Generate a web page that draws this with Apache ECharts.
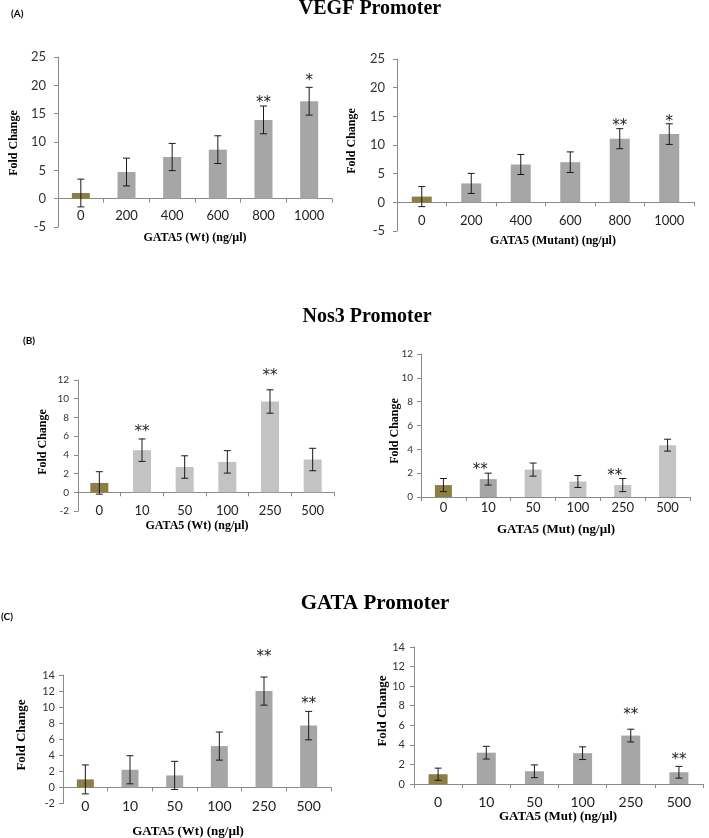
<!DOCTYPE html>
<html>
<head>
<meta charset="utf-8">
<script src="https://cdn.jsdelivr.net/npm/echarts@6/dist/echarts.min.js"></script>
<style>html,body{margin:0;padding:0;background:#fff;}#c{width:709px;height:838px;}</style>
</head>
<body>
<div id="c"></div>
<script>
// ---------- data ----------
const catsVEGF = ['0', '200', '400', '600', '800', '1000'];
const catsDose = ['0', '10', '50', '100', '250', '500'];

const vegfWtVals = [1.0, 4.7, 7.35, 8.65, 13.9, 17.2];
const vegfWtErr  = [2.45, 2.45, 2.4, 2.45, 2.45, 2.45];
const vegfWtStars = ['', '', '', '', '**', '*'];
const vegfWtStarY = [0, 0, 0, 0, 17.4, 21.3];

const vegfMutVals = [1.0, 3.3, 6.6, 7.0, 11.1, 11.9];
const vegfMutErr  = [1.75, 1.75, 1.75, 1.8, 1.75, 1.8];
const vegfMutStars = ['', '', '', '', '**', '*'];
const vegfMutStarY = [0, 0, 0, 0, 13.75, 14.6];

const nosWtVals = [1.0, 4.5, 2.7, 3.25, 9.7, 3.5];
const nosWtErr  = [1.2, 1.2, 1.2, 1.2, 1.25, 1.2];
const nosWtStars = ['', '**', '', '', '**', ''];
const nosWtStarY = [0, 6.73, 0, 0, 12.7, 0];

const nosMutVals = [1.0, 1.5, 2.3, 1.3, 1.0, 4.35];
const nosMutErr  = [0.55, 0.5, 0.55, 0.5, 0.55, 0.5];
const nosMutStars = ['', '**', '', '', '**', ''];
const nosMutStarY = [0, 2.5, 0, 0, 2.0, 0];

const gataWtVals = [1.0, 2.2, 1.5, 5.15, 12.0, 7.7];
const gataWtErr  = [1.8, 1.75, 1.75, 1.75, 1.75, 1.77];
const gataWtStars = ['', '', '', '', '**', '**'];
const gataWtStarY = [0, 0, 0, 0, 16.6, 10.7];

const gataMutVals = [1.0, 3.2, 1.3, 3.15, 4.95, 1.2];
const gataMutErr  = [0.62, 0.65, 0.65, 0.65, 0.65, 0.6];
const gataMutStars = ['', '', '', '', '**', '**'];
const gataMutStarY = [0, 0, 0, 0, 7.3, 2.74];

// ---------- styles ----------
const OLIVE = '#8c7e45';
const GRAY = '#a6a6a6';
const LIGHT = '#c3c3c3';
const AXIS = '#8a8a8a';
const SANS = 'Lato, "Liberation Sans", sans-serif';
const SERIF = '"Liberation Serif", "DejaVu Serif", serif';

const panels = [
  {cats: catsVEGF, vals: vegfWtVals, err: vegfWtErr, stars: vegfWtStars, starY: vegfWtStarY,
   grid: {left: 58, top: 57, width: 274, height: 170}, min: -5, max: 25, interval: 5,
   barWidth: 18, colors: [OLIVE, GRAY, GRAY, GRAY, GRAY, GRAY], yFont: 13, xFont: 13, yMargin: 12, xMargin: 11, starDx: 0},
  {cats: catsVEGF, vals: vegfMutVals, err: vegfMutErr, stars: vegfMutStars, starY: vegfMutStarY,
   grid: {left: 397, top: 59, width: 297, height: 172}, min: -5, max: 25, interval: 5,
   barWidth: 20, colors: [OLIVE, GRAY, GRAY, GRAY, GRAY, GRAY], yFont: 13, xFont: 13, yMargin: 12, xMargin: 12, starDx: 0},
  {cats: catsDose, vals: nosWtVals, err: nosWtErr, stars: nosWtStars, starY: nosWtStarY,
   grid: {left: 78, top: 380, width: 256, height: 131}, min: -2, max: 12, interval: 2,
   barWidth: 18, colors: [OLIVE, LIGHT, LIGHT, LIGHT, LIGHT, LIGHT], yFont: 10, xFont: 13, yMargin: 9, xMargin: 12, starDx: 0},
  {cats: catsDose, vals: nosMutVals, err: nosMutErr, stars: nosMutStars, starY: nosMutStarY,
   grid: {left: 421, top: 354, width: 269, height: 143}, min: 0, max: 12, interval: 2,
   barWidth: 17, colors: [OLIVE, GRAY, LIGHT, LIGHT, LIGHT, LIGHT], yFont: 10, xFont: 13, yMargin: 8, xMargin: 4, starDx: -8},
  {cats: catsDose, vals: gataWtVals, err: gataWtErr, stars: gataWtStars, starY: gataWtStarY,
   grid: {left: 63, top: 675, width: 268, height: 128.5}, min: -2, max: 14, interval: 2,
   barWidth: 17, colors: [OLIVE, GRAY, GRAY, GRAY, GRAY, GRAY], yFont: 11, xFont: 14, yMargin: 8, xMargin: 12, starDx: 0},
  {cats: catsDose, vals: gataMutVals, err: gataMutErr, stars: gataMutStars, starY: gataMutStarY,
   grid: {left: 414, top: 647, width: 289, height: 137}, min: 0, max: 14, interval: 2,
   barWidth: 19, colors: [OLIVE, GRAY, GRAY, GRAY, GRAY, GRAY], yFont: 11, xFont: 14, yMargin: 9, xMargin: 11, starDx: 0}
];

function makeErrRenderer(p) {
  return function (params, api) {
    const i = api.value(0), v = api.value(1), e = api.value(2);
    const top = api.coord([i, v + e]);
    const bot = api.coord([i, v - e]);
    const cap = 3.5;
    const st = {stroke: '#1a1a1a', lineWidth: 1};
    const children = [
      {type: 'line', shape: {x1: top[0], y1: top[1], x2: bot[0], y2: bot[1]}, style: st},
      {type: 'line', shape: {x1: top[0] - cap, y1: top[1], x2: top[0] + cap, y2: top[1]}, style: st},
      {type: 'line', shape: {x1: bot[0] - cap, y1: bot[1], x2: bot[0] + cap, y2: bot[1]}, style: st}
    ];
    if (p.stars[i]) {
      const sp = api.coord([i, p.starY[i]]);
      children.push({type: 'text', x: sp[0] + p.starDx, y: sp[1] + 3,
        style: {text: p.stars[i], font: '15px "DejaVu Sans", sans-serif', textAlign: 'center', textVerticalAlign: 'middle', fill: '#222'}});
    }
    return {type: 'group', children: children};
  };
}

const grids = [], xAxes = [], yAxes = [], series = [];
panels.forEach(function (p, k) {
  grids.push(Object.assign({containLabel: false, outerBoundsMode: 'none'}, p.grid));
  // place the category axis on the zero line (line, ticks and labels together)
  const zeroOffset = -(0 - p.min) / (p.max - p.min) * p.grid.height;
  xAxes.push({
    type: 'category', gridIndex: k, data: p.cats, position: 'bottom', offset: zeroOffset,
    axisLine: {onZero: false, lineStyle: {color: AXIS, width: 1}},
    axisTick: {show: true, length: 4, lineStyle: {color: AXIS}},
    axisLabel: {color: '#222', fontFamily: SANS, fontSize: p.xFont, margin: p.xMargin, interval: 0},
    splitLine: {show: false}
  });
  yAxes.push({
    type: 'value', gridIndex: k, min: p.min, max: p.max, interval: p.interval,
    axisLine: {show: true, lineStyle: {color: AXIS, width: 1}},
    axisTick: {show: true, length: 4, lineStyle: {color: AXIS}},
    axisLabel: {color: '#333', fontFamily: SANS, fontSize: p.yFont, margin: p.yMargin},
    splitLine: {show: false}
  });
  series.push({
    type: 'bar', xAxisIndex: k, yAxisIndex: k, barWidth: p.barWidth,
    data: p.vals.map(function (v, i) { return {value: v, itemStyle: {color: p.colors[i]}}; }),
    silent: true, animation: false
  });
  series.push({
    type: 'custom', xAxisIndex: k, yAxisIndex: k, clip: false, silent: true, animation: false,
    renderItem: makeErrRenderer(p),
    data: p.vals.map(function (v, i) { return [i, v, p.err[i]]; }),
    z: 5
  });
});

function txt(x, y, text, font, rot) {
  return {type: 'text', x: x, y: y, rotation: rot || 0, silent: true,
    style: {text: text, font: font, textAlign: 'center', textVerticalAlign: 'middle', fill: '#000'}};
}
function lab(x, y, text) {
  return {type: 'text', x: x, y: y, silent: true,
    style: {text: text, font: 'bold 10px ' + SANS, textAlign: 'left', textVerticalAlign: 'middle', fill: '#000'}};
}
const R = Math.PI / 2;
const graphics = [
  txt(370, 9, 'VEGF Promoter', 'bold 20px ' + SERIF),
  txt(367, 316.5, 'Nos3 Promoter', 'bold 20px ' + SERIF),
  txt(375, 604, 'GATA Promoter', 'bold 21px ' + SERIF),
  lab(11, 14, '(A)'),
  lab(23, 340.5, '(B)'),
  lab(1, 617, '(C)'),
  // axis names
  txt(195, 238, 'GATA5 (Wt) (ng/µl)', 'bold 12px ' + SERIF),
  txt(14, 143, 'Fold Change', 'bold 12px ' + SERIF, R),
  txt(553, 240.7, 'GATA5 (Mutant) (ng/µl)', 'bold 12px ' + SERIF),
  txt(352, 141, 'Fold Change', 'bold 12px ' + SERIF, R),
  txt(197, 526, 'GATA5 (Wt) (ng/µl)', 'bold 12px ' + SERIF),
  txt(43, 442, 'Fold Change', 'bold 12px ' + SERIF, R),
  txt(556, 530, 'GATA5 (Mut) (ng/µl)', 'bold 13px ' + SERIF),
  txt(394.5, 431, 'Fold Change', 'bold 12px ' + SERIF, R),
  txt(188, 831.5, 'GATA5 (Wt) (ng/µl)', 'bold 13px ' + SERIF),
  txt(22, 735, 'Fold Change', 'bold 13px ' + SERIF, R),
  txt(558, 816.7, 'GATA5 (Mut) (ng/µl)', 'bold 13px ' + SERIF),
  txt(383, 711, 'Fold Change', 'bold 13px ' + SERIF, R)
];

const chart = echarts.init(document.getElementById('c'), null, {renderer: 'canvas'});
chart.setOption({
  backgroundColor: '#ffffff',
  animation: false,
  grid: grids,
  xAxis: xAxes,
  yAxis: yAxes,
  series: series,
  graphic: graphics
});
</script>
</body>
</html>
